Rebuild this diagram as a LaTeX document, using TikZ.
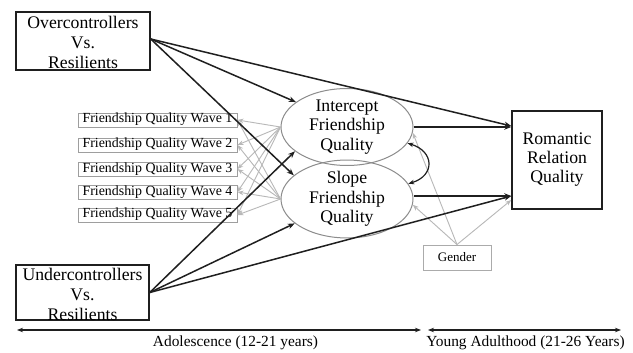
\documentclass[tikz,border=0pt]{standalone}
\usepackage{fontspec}
\setmainfont{Liberation Serif}
\usetikzlibrary{arrows.meta,shapes.geometric,calc}
\begin{document}
\begin{tikzpicture}[x=1pt,y=-1pt,
  bigbox/.style={draw=black!88, line width=1.5pt, inner sep=0pt},
  bigtxt/.style={align=center, font=\fontsize{17.7}{20}\selectfont, inner sep=0pt},
  wavebox/.style={draw=black!38, line width=0.9pt, minimum width=159pt, minimum height=14pt, inner sep=0pt, font=\fontsize{13.9}{14}\selectfont, text height=9pt, text depth=3pt},
  lat/.style={ellipse, draw=black!45, line width=1pt, minimum width=132pt, minimum height=59pt, inner sep=0pt, align=center, font=\fontsize{17.7}{19.5}\selectfont},
  barr/.style={draw=black!88, line width=1.5pt, -{Stealth[length=7pt,width=5.5pt]}},
  garr/.style={draw=black!28, line width=0.9pt, -{Stealth[length=6pt,width=4.5pt]}},
  tl/.style={draw=black!88, line width=1.2pt, {Stealth[length=6pt,width=4.5pt]}-{Stealth[length=6pt,width=4.5pt]}},
  lbl/.style={font=\fontsize{15.4}{17}\selectfont, inner sep=0pt},
]
\useasboundingbox (0,0) rectangle (633,353);
\fill[white] (0,0) rectangle (633,353);

% predictor boxes
\node[bigbox, minimum width=134pt, minimum height=58pt] (ov) at (83,41) {};
\node[bigtxt] (ovt) at (83,42) {Overcontrollers\\Vs.\\Resilients};
\node[bigbox, minimum width=133pt, minimum height=55pt] (un) at (82.5,292.5) {};
\node[bigtxt] (unt) at (82.5,294.5) {Undercontrollers\\Vs.\\Resilients};

% waves
\node[wavebox] (w1) at (157.5,120) {Friendship Quality Wave 1};
\node[wavebox] (w2) at (157.5,145) {Friendship Quality Wave 2};
\node[wavebox] (w3) at (157.5,169) {Friendship Quality Wave 3};
\node[wavebox] (w4) at (157.5,192) {Friendship Quality Wave 4};
\node[wavebox] (w5) at (157.5,215) {Friendship Quality Wave 5};

% latent
\node[lat] (int) at (347,127) {Intercept\\Friendship\\Quality};
\node[lat, minimum height=58pt] (slo) at (347,199) {Slope\\Friendship\\Quality};

% outcome
\node[bigbox, minimum width=90pt, minimum height=98pt, align=center, font=\fontsize{17.7}{19}\selectfont] (rom) at (557,160) {Romantic\\Relation\\Quality};

% gender
\node[draw=black!33, line width=0.9pt, minimum width=68pt, minimum height=25pt, inner sep=0pt, font=\fontsize{13}{14}\selectfont] (gen) at (457,257.5) {Gender};

% gray loadings
\foreach \i in {1,...,5} {
  \draw[garr] (int.west) -- (w\i.east);
  \draw[garr] (slo.west) -- (w\i.east);
}
\draw[garr] (gen.north) -- (int.-5);
\draw[garr] (gen.north) -- (slo.-5);
\draw[garr] (gen.north) -- ([yshift=-40pt]rom.west);

% black paths
\draw[barr] ([yshift=2pt]ov.east) -- (int.154);
\draw[barr] ([yshift=2pt]ov.east) -- (slo.156);
\draw[barr] ([yshift=2pt]ov.east) -- ([yshift=34pt]rom.west);
\draw[barr] (un.east) -- (int.205);
\draw[barr] (un.east) -- (slo.205);
\draw[barr] (un.east) -- ([yshift=-36pt]rom.west);
\draw[barr] (int.east) -- (int.east -| rom.west);
\draw[barr] ([yshift=3pt]slo.east) -- ([yshift=3pt]slo.east -| rom.west);

% covariance
\draw[draw=black!88, line width=1.2pt, {Stealth[length=6pt,width=4.5pt]}-{Stealth[length=6pt,width=4.5pt]}] (int.-15) .. controls +(27,8) and +(27,-8) .. (slo.14);

% timeline
\coordinate (a1) at (17,330);
\coordinate (a2) at (421,330);
\coordinate (b1) at (428,330);
\coordinate (b2) at (621,330);
\draw[tl] (a1) -- (a2);
\draw[tl] (b1) -- (b2);
\node[lbl] (la) at (235.5,343) {Adolescence (12-21 years)};
\node[lbl] (lb) at (525.5,343) {Young Adulthood (21-26 Years)};
\end{tikzpicture}
\end{document}
